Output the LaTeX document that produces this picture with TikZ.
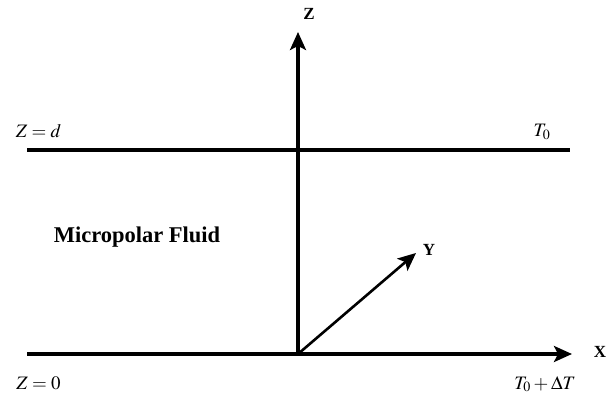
\documentclass[tikz,border=0pt]{standalone}
\usepackage{mathptmx}
\usepackage{fontspec}
\setmainfont{Liberation Serif}
\usepackage{tikz}
\usetikzlibrary{arrows.meta, positioning}

\begin{document}
\begin{tikzpicture}[
  x=1pt, y=1pt,
  wall/.style={line width=3.1pt},
  axis/.style={line width=3.1pt, -{Stealth[length=18pt, width=16pt, inset=4pt]}},
  axislabel/.style={font=\fontsize{17}{19}\selectfont\bfseries, inner sep=0pt},
  bclabel/.style={font=\fontsize{19}{22}\selectfont, inner sep=0pt, anchor=base},
]
  \useasboundingbox (0,0) rectangle (614,397);

  % axes and walls
  \coordinate (origin) at (298,43);
  \coordinate (zend) at (298,365);
  \coordinate (xend) at (572,43);
  \coordinate (yend) at (416,144);
  \coordinate (lowleft) at (27,43);
  \coordinate (topleft) at (27,247);
  \coordinate (topright) at (570,247);

  \draw[wall] (topleft) -- (topright);
  \draw[axis] (lowleft) -- (xend);
  \draw[axis] (origin) -- (zend);
  \draw[axis, line width=2.6pt] (origin) -- (yend);

  % labels
  \node[axislabel] (zlab) at (309,383) {Z};
  \node[axislabel] (xlab) at (600,45) {X};
  \node[axislabel] (ylab) at (429,147) {Y};
  \node[font=\fontsize{22.5}{26}\selectfont\bfseries, inner sep=0pt, anchor=base] (fluid) at (137,154) {Micropolar Fluid};

  \node[bclabel] (top) at (38.5,259) {$Z = d$};
  \node[bclabel] (ttop) at (542,260) {$T_0$};
  \node[bclabel] (bottom) at (38.5,8) {$Z = 0$};
  \node[bclabel] (tbottom) at (545,8) {$T_0 + \Delta T$};
\end{tikzpicture}
\end{document}
